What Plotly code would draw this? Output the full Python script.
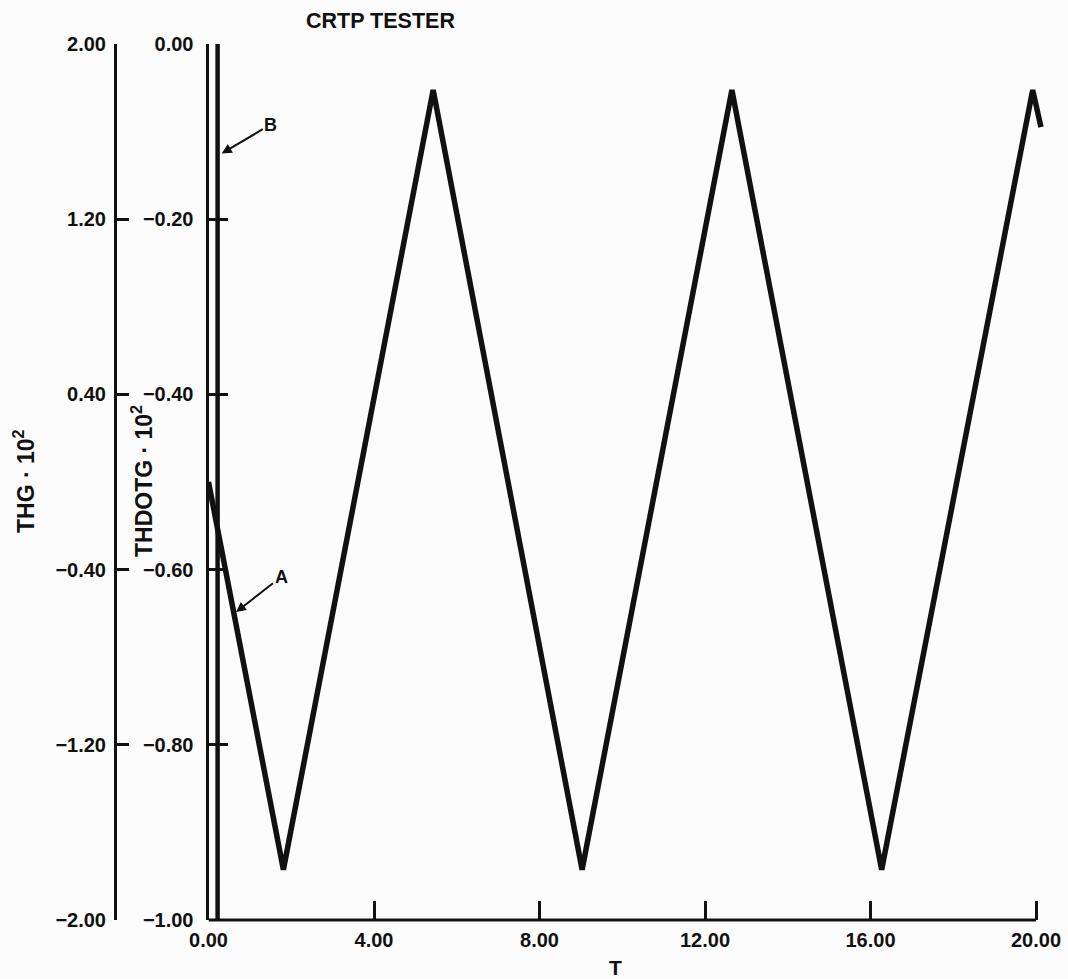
import plotly.graph_objects as go

# Time samples and values of curve A (THG * 10^2): triangle wave
t_a = [0.0, 1.81, 5.43, 9.03, 12.65, 16.27, 19.92, 20.12]
thg_a = [0.0, -1.77, 1.79, -1.77, 1.79, -1.77, 1.79, 1.62]

# Curve B (THDOTG * 10^2): near-vertical trace right after t = 0
t_b = [0.22, 0.22]
thdotg_b = [0.0, -1.0]

# Tick values
x_ticks = [0, 4, 8, 12, 16, 20]
thdotg_ticks = [0.0, -0.2, -0.4, -0.6, -0.8, -1.0]
thg_ticks = [2.0, 1.2, 0.4, -0.4, -1.2, -2.0]

INK = "#111111"
FONT = "Liberation Sans, Arial, Helvetica, sans-serif"

W, H = 1068, 979
ML, MR, MT, MB = 20, 20, 44, 59
plot_w = W - ML - MR
plot_h = H - MT - MB
x0_px = 208.5        # pixel position of inner axis
outer_px = 115       # pixel position of outer axis
px_per_t = 41.375

x_dom0 = (x0_px - ML) / plot_w
x_span = (W - MR - x0_px) / px_per_t


def px_to_paper_x(px):
    return (px - ML) / plot_w


def py_to_paper_y(py):
    return (H - MB - py) / plot_h


fig = go.Figure()

fig.add_trace(go.Scatter(
    x=t_a, y=thg_a, yaxis="y2", mode="lines",
    line=dict(color=INK, width=5.5), showlegend=False, hoverinfo="skip",
))
fig.add_trace(go.Scatter(
    x=t_b, y=thdotg_b, yaxis="y", mode="lines",
    line=dict(color=INK, width=4.5), showlegend=False, hoverinfo="skip",
))

tick_font = dict(family=FONT, size=20, color=INK, weight="bold")

fig.update_layout(
    width=W, height=H,
    margin=dict(l=ML, r=MR, t=MT, b=MB, autoexpand=False),
    paper_bgcolor="#fcfcfc", plot_bgcolor="#fcfcfc",
    showlegend=False,
    xaxis=dict(
        domain=[x_dom0, 1], range=[0, x_span], automargin=False,
        tickmode="array", tickvals=x_ticks, tickformat=".2f",
        ticks="inside", ticklen=19, tickwidth=2.5, tickcolor=INK,
        showline=False, showgrid=False, zeroline=False,
        tickfont=tick_font, ticklabelstandoff=6,
    ),
    yaxis=dict(
        range=[-1, 0], anchor="x", side="left", automargin=False,
        tickmode="array", tickvals=thdotg_ticks, tickformat=".2f",
        ticks="inside", ticklen=19, tickwidth=2.5, tickcolor=INK,
        showline=True, linewidth=3, linecolor=INK,
        showgrid=False, zeroline=False,
        tickfont=tick_font, ticklabelstandoff=8,
    ),
    yaxis2=dict(
        range=[-2, 2], overlaying="y", anchor="free", automargin=False,
        position=px_to_paper_x(outer_px), side="left",
        tickmode="array", tickvals=thg_ticks, tickformat=".2f",
        ticks="inside", ticklen=12, tickwidth=2.5, tickcolor=INK,
        showline=True, linewidth=3, linecolor=INK,
        showgrid=False, zeroline=False,
        tickfont=tick_font, ticklabelstandoff=4,
    ),
)

# x axis baseline from T = 0 to T = 20
fig.add_shape(type="line", xref="x", yref="paper",
              x0=0, x1=20, y0=0, y1=0,
              line=dict(color=INK, width=3))

ann_font = dict(family=FONT, color=INK, weight="bold")

# Title and axis titles
fig.add_annotation(text="CRTP TESTER", xref="paper", yref="paper",
                   x=px_to_paper_x(380), y=py_to_paper_y(20.5),
                   xanchor="center", yanchor="middle", showarrow=False,
                   font=dict(size=21.5, **ann_font))
fig.add_annotation(text="T", xref="paper", yref="paper",
                   x=px_to_paper_x(615), y=py_to_paper_y(967),
                   xanchor="center", yanchor="middle", showarrow=False,
                   font=dict(size=21, **ann_font))
fig.add_annotation(text="THG · 10<sup>2</sup>", xref="paper", yref="paper",
                   x=px_to_paper_x(24), y=py_to_paper_y(481),
                   xanchor="center", yanchor="middle", showarrow=False,
                   textangle=-90, font=dict(size=23, **ann_font))
fig.add_annotation(text="THDOTG · 10<sup>2</sup>", xref="paper", yref="paper",
                   x=px_to_paper_x(142), y=py_to_paper_y(481),
                   xanchor="center", yanchor="middle", showarrow=False,
                   textangle=-90, font=dict(size=23, **ann_font))

# Curve labels with leader arrows pointing at the curves
fig.add_annotation(text="A", xref="x", yref="y2", x=0.665, y=-0.594,
                   ax=45, ay=-35, showarrow=True, arrowhead=2,
                   arrowsize=1, arrowwidth=2, arrowcolor=INK,
                   font=dict(size=18, **ann_font))
fig.add_annotation(text="B", xref="x", yref="y", x=0.32, y=-0.125,
                   ax=49, ay=-29, showarrow=True, arrowhead=2,
                   arrowsize=1, arrowwidth=2, arrowcolor=INK,
                   font=dict(size=18, **ann_font))

fig.write_html("out.html")
